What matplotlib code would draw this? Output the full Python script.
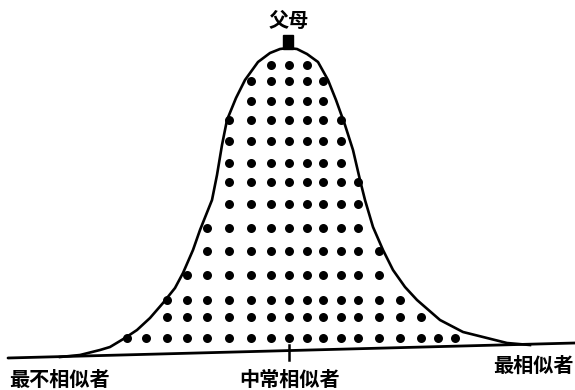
import matplotlib
matplotlib.use("Agg")
import matplotlib.pyplot as plt
from matplotlib.patches import Rectangle

plt.rcParams['font.family'] = ['Noto Sans CJK SC', 'DejaVu Sans']

# ---- data (pixel-like coordinates, y grows downward) ----
curve_x = [60, 80, 100, 110, 125, 137, 150, 163, 175, 183, 193, 200, 206, 212, 217,
           222, 227, 236, 245, 258, 270, 280, 288, 297, 307, 318, 328, 336, 345, 353,
           360, 365, 373, 383, 393, 405, 417, 440, 463, 487, 507, 530]
curve_y = [357, 355, 350, 347, 338, 330, 318, 303, 288, 273, 250, 230, 215, 200, 175,
           145, 120, 98, 80, 62, 53, 49, 48, 49, 54, 62, 80, 100, 125, 150,
           180, 200, 227, 250, 270, 287, 300, 320, 332, 338, 343, 345]

baseline_x = [8, 575]
baseline_y = [358, 343]

column_x = [127, 146, 167, 187, 207, 229, 251, 271, 289, 307, 323, 341, 358, 379,
            400, 421, 438, 455]
row_y = [65, 81, 101, 120, 141, 163, 182, 204, 228, 251, 275, 300, 317, 338]
row_first_col = [7, 6, 6, 5, 5, 5, 5, 5, 4, 4, 3, 2, 2, 0]
row_last_col = [9, 10, 10, 11, 11, 11, 12, 12, 12, 13, 13, 14, 15, 17]

peak_label = "父母"
axis_labels = ["最不相似者", "中常相似者", "最相似者"]
axis_label_x = [9, 290, 574]
axis_label_y = [379, 379, 365]
axis_label_ha = ["left", "center", "right"]

# ---- figure ----
fig = plt.figure(figsize=(5.75, 3.9), dpi=100)
ax = fig.add_axes([0, 0, 1, 1])
ax.set_xlim(0, 575)
ax.set_ylim(390, 0)
ax.axis('off')

# baseline
ax.plot(baseline_x, baseline_y, color='black', lw=2.0, solid_capstyle='round')
# centre tick
ax.plot([289, 289], [345, 360], color='black', lw=1.8)

# curve
ax.plot(curve_x, curve_y, color='black', lw=1.9, solid_joinstyle='round')

# dots
dx, dy = [], []
for y, c0, c1 in zip(row_y, row_first_col, row_last_col):
    for c in range(c0, c1 + 1):
        dx.append(column_x[c])
        dy.append(y)
ax.scatter(dx, dy, s=42, color='black', zorder=3, linewidths=0)

# parent marker
ax.add_patch(Rectangle((283, 35), 10, 14, color='black', zorder=4))
ax.text(289, 20, peak_label, ha='center', va='center', fontsize=14.5,
        fontweight='heavy', color='black')

for lab, x, y, ha in zip(axis_labels, axis_label_x, axis_label_y, axis_label_ha):
    ax.text(x, y, lab, ha=ha, va='center', fontsize=14.5, fontweight='heavy',
            color='black')

fig.savefig('out.png', dpi=100, facecolor='white')
